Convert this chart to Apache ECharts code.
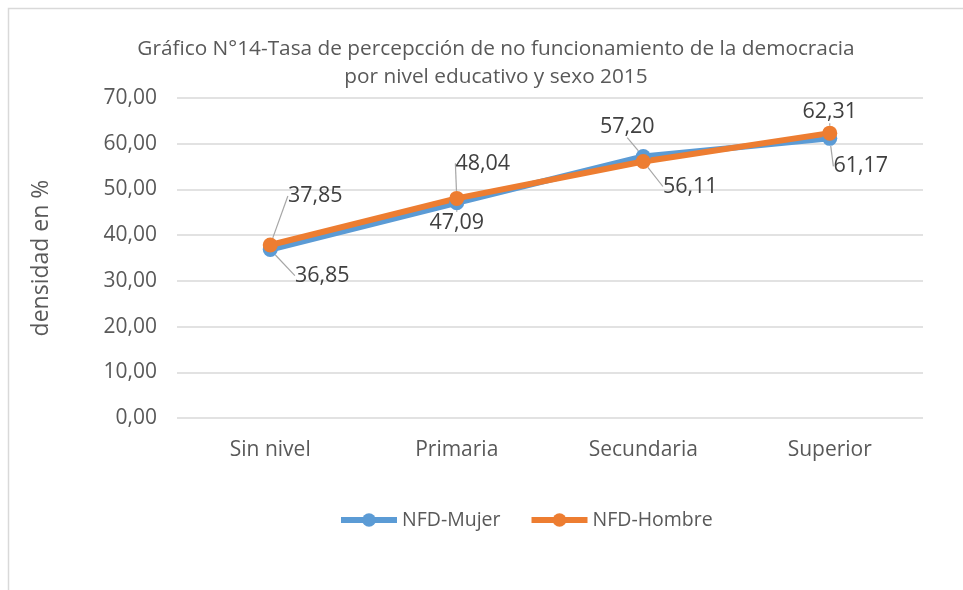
<!DOCTYPE html>
<html>
<head>
<meta charset="utf-8">
<script src="https://cdn.jsdelivr.net/npm/echarts@6/dist/echarts.min.js"></script>
<style>
  html, body { margin: 0; padding: 0; background: #fff; }
  #chart { width: 963px; height: 590px; }
</style>
</head>
<body>
<div id="chart"></div>
<script>
const categories = ["Sin nivel", "Primaria", "Secundaria", "Superior"];
const mujer = [36.85, 47.09, 57.20, 61.17];
const hombre = [37.85, 48.04, 56.11, 62.31];
const yTicks = [0, 10, 20, 30, 40, 50, 60, 70];

// label nudges (px) per series / point, like the hand-placed labels in the original
const labelShift = [
  [[52, 26], [0, 20], [-16, -30], [31, 28]],
  [[45, -49], [26, -35], [47, 25], [0, -21]]
];

const fmt = v => v.toFixed(2).replace(".", ",");
const font = "'Open Sans', sans-serif";

const chart = echarts.init(document.getElementById("chart"));

const mkSeries = (name, data, color) => ({
  type: "line",
  name: name,
  data: data,
  symbol: "circle",
  symbolSize: 15,
  lineStyle: { width: 6, color: color },
  itemStyle: { color: color },
  label: {
    show: true,
    position: "inside",
    color: "#404040",
    fontFamily: font,
    fontSize: 21.5,
    formatter: p => fmt(p.value)
  },
  labelLine: { show: true, lineStyle: { color: "#a6a6a6", width: 1.2 } }
});

chart.setOption({
  animation: false,
  textStyle: { fontFamily: font },
  graphic: [{
    type: "rect",
    shape: { x: 8.5, y: 8.5, width: 1000, height: 1000 },
    style: { fill: "none", stroke: "#d9d9d9", lineWidth: 1.5 },
    silent: true
  }],
  title: {
    text: "Gráfico N°14-Tasa de percepcción de no funcionamiento de la democracia\npor nivel educativo y sexo 2015",
    left: 491,
    top: 30,
    textAlign: "center",
    textStyle: { color: "#595959", fontSize: 20.8, fontWeight: "normal", lineHeight: 28, fontFamily: font }
  },
  legend: {
    bottom: 55,
    left: 333,
    itemWidth: 56,
    itemHeight: 17,
    itemGap: 28,
    lineStyle: { width: 6 },
    textStyle: { color: "#595959", fontSize: 19.5, fontFamily: font },
    data: ["NFD-Mujer", "NFD-Hombre"]
  },
  grid: { left: 177, right: 40, top: 98, bottom: 172, containLabel: false },
  xAxis: {
    type: "category",
    data: categories,
    axisLine: { show: false },
    axisTick: { show: false },
    axisLabel: { color: "#595959", fontSize: 21, margin: 22, fontFamily: font }
  },
  yAxis: {
    type: "value",
    min: yTicks[0],
    max: yTicks[yTicks.length - 1],
    interval: 10,
    name: "densidad en %",
    nameLocation: "middle",
    nameGap: 124,
    nameTextStyle: { color: "#595959", fontSize: 23, fontFamily: font },
    axisLabel: { color: "#595959", fontSize: 21, margin: 20, formatter: v => fmt(v), fontFamily: font },
    splitLine: { lineStyle: { color: "#d9d9d9", width: 1.5 } }
  },
  labelLayout: p => {
    const s = labelShift[p.seriesIndex][p.dataIndex];
    return { dx: s[0], dy: s[1] };
  },
  series: [
    mkSeries("NFD-Mujer", mujer, "#5B9BD5"),
    mkSeries("NFD-Hombre", hombre, "#ED7D31")
  ]
});

window.addEventListener("resize", () => chart.resize());
</script>
</body>
</html>
